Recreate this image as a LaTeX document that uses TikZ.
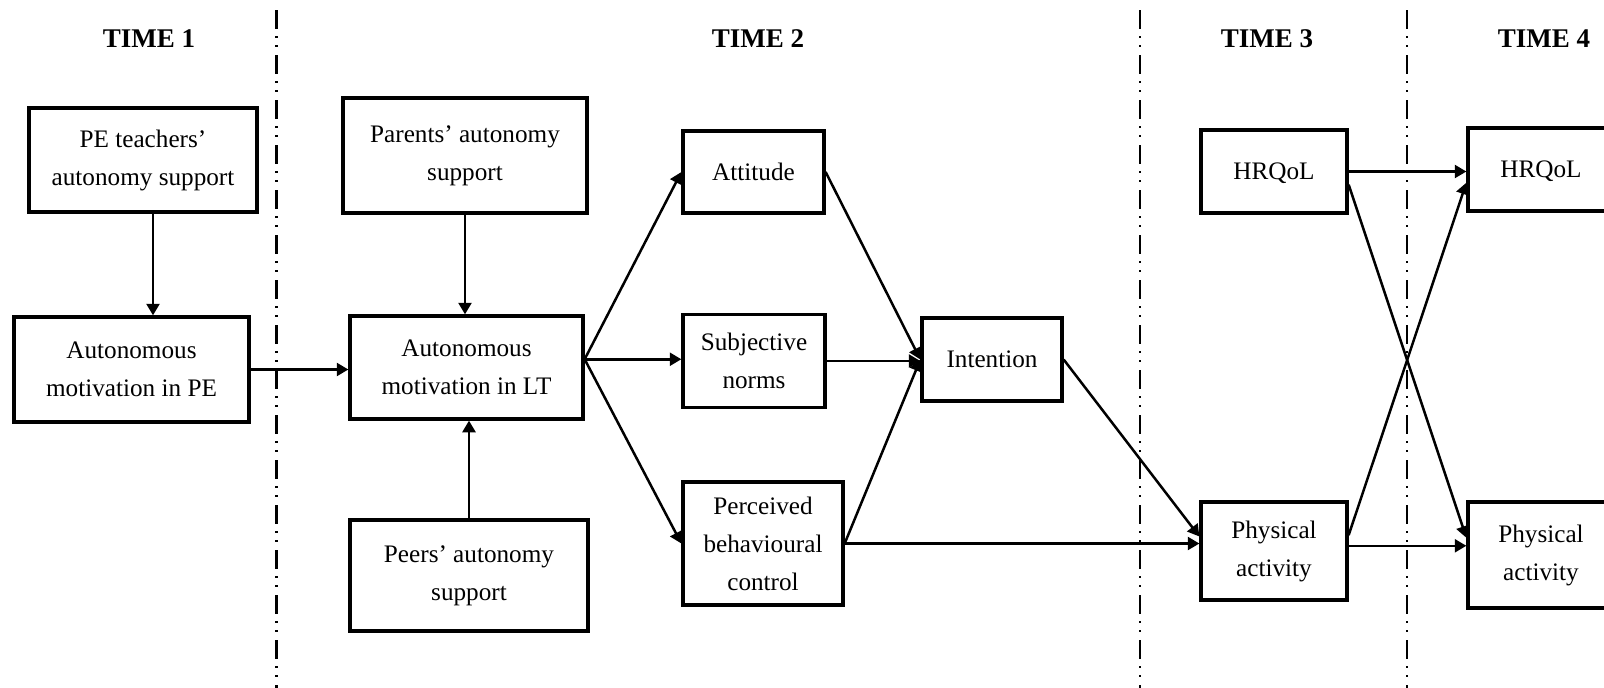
\documentclass[tikz,border=0pt]{standalone}
\usepackage{fontspec}
\setmainfont{Liberation Serif}
\usetikzlibrary{arrows.meta,positioning}

\begin{document}
\begin{tikzpicture}[x=0.5pt, y=-0.5pt, >={Triangle[length=5.8pt, width=6.5pt]},
  box/.style={draw, line width=1.65pt, align=center, inner sep=0pt,
    font=\fontsize{12.6}{19}\selectfont},
  period/.style={font=\bfseries\fontsize{13.5}{16}\selectfont},
  divider/.style={line width=1.3pt,
    dash pattern=on 9.5pt off 3.5pt on 1pt off 3.5pt on 1pt off 4pt},
  link/.style={->, line width=1.25pt}]
  \useasboundingbox (0,0) rectangle (1604,687);
  \clip (0,0) rectangle (1604,687);

  % time dividers
  \foreach \x in {276.5,1140,1407}
    \draw[divider] (\x,10) -- (\x,690);
  \node[period] (t1) at (149,39) {TIME 1};
  \node[period] (t2) at (758,39) {TIME 2};
  \node[period] (t3) at (1267,39) {TIME 3};
  \node[period] (t4) at (1544,39) {TIME 4};

  % time 1
  \node[box, minimum width=114pt, minimum height=52pt] (teach) at (143,160) {PE teachers’\\autonomy support};
  \node[box, minimum width=117.5pt, minimum height=52.5pt] (amPE) at (131.5,369.5) {Autonomous\\motivation in PE};

  % time 2
  \node[box, minimum width=122pt, minimum height=57.5pt] (parents) at (465,155.5) {Parents’ autonomy\\support};
  \node[box, minimum width=116.5pt, minimum height=51.5pt] (amLT) at (466.5,367.5) {Autonomous\\motivation in LT};
  \node[box, minimum width=119pt, minimum height=55.5pt] (peers) at (469,575.5) {Peers’ autonomy\\support};
  \node[box, minimum width=70.5pt, minimum height=41pt] (att) at (753.5,172) {Attitude};
  \node[box, minimum width=71pt, minimum height=46.5pt] (norms) at (754,361) {Subjective\\norms};
  \node[box, minimum width=80pt, minimum height=61.5pt] (pbc) at (763,543.5) {Perceived\\behavioural\\control};
  \node[box, minimum width=70pt, minimum height=41.5pt] (int) at (992,359.5) {Intention};

  % time 3 and 4
  \node[box, text depth=0pt, minimum width=73pt, minimum height=41.5pt] (hrq3) at (1274,171.5) {HRQoL};
  \node[box, minimum width=73pt, minimum height=49pt] (pa3) at (1274,551) {Physical\\activity};
  \node[box, text depth=0pt, minimum width=73pt, minimum height=41.5pt] (hrq4) at (1541,169.5) {HRQoL};
  \node[box, minimum width=73pt, minimum height=53pt] (pa4) at (1541,555) {Physical\\activity};

  \draw[link] ([xshift=5pt]teach.south) -- ([xshift=5pt]teach.south |- amPE.north);
  \draw[link] (amPE.east) -- (amPE.east -| amLT.west);
  \draw[link] (parents.south) -- (parents.south |- amLT.north);
  \draw[link] (peers.north) -- (peers.north |- amLT.south);
  \draw[link] (amLT.4) -- (att.west);
  \draw[link] (amLT.4) -- (amLT.4 -| norms.west);
  \draw[link] (amLT.4) -- (pbc.west);
  \draw[link] (att.east) -- (int.west);
  \draw[link] (norms.east) -- (norms.east -| int.west);
  \draw[link] (pbc.east) -- (int.west);
  \draw[link] (pbc.east) -- (pbc.east -| pa3.west);
  \draw[link] (int.east) -- (pa3.169);
  \draw[link] (hrq3.east) -- (hrq3.east -| hrq4.west);
  \draw[link] (hrq3.-10) -- (pa4.167);
  \draw[link] (pa3.12) -- (hrq4.190);
  \draw[link] (pa3.4) -- (pa3.4 -| pa4.west);
\end{tikzpicture}
\end{document}
